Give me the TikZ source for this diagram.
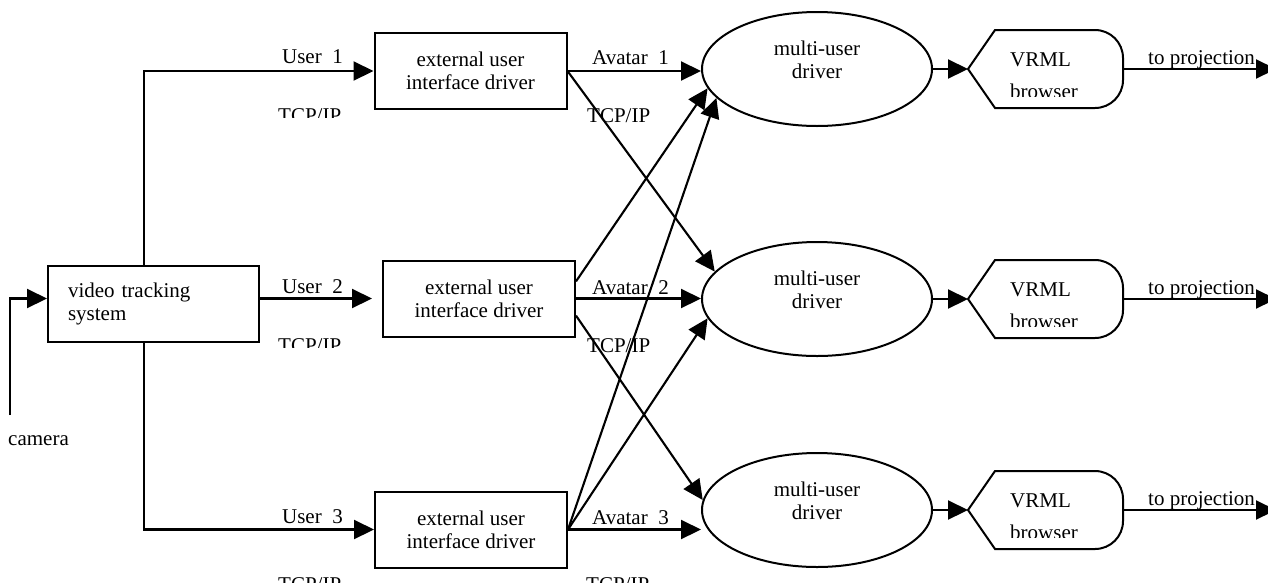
\documentclass[tikz,border=0pt]{standalone}
\usepackage{fontspec}
\setmainfont{Liberation Serif}
\usetikzlibrary{arrows.meta,calc,positioning,shapes.geometric}
\tikzset{
 chart/.style={font=\fontsize{21}{23}\selectfont,line join=miter},
 unitbox/.style={rectangle,draw,line width=2pt,inner sep=0pt,minimum width=192pt,minimum height=76pt,align=center},
 trackbox/.style={unitbox,minimum width=211pt,text width=171pt,inner xsep=20pt,align=left},
 mudriver/.style={ellipse,draw,line width=2pt,inner sep=0pt,minimum width=230pt,minimum height=114pt},
 mutext/.style={align=center,inner sep=0pt,yshift=9pt},
 shapeline/.style={draw,line width=2pt},
 wire/.style={line width=2.1pt},
 flow/.style={wire,-{Triangle[length=20pt,width=19pt]}},
 tag/.style={inner sep=0pt,anchor=base west},
 tagr/.style={inner sep=0pt,anchor=base east}
}
\newcommand{\vrmlBrowser}[2]{%
 \begin{scope}[shift={(0,#2)}]
 \draw[shapeline] (968,0) -- (995,-39) -- (1095,-39) to[out=0,in=90] (1123,-11)
   -- (1123,11) to[out=-90,in=0] (1095,39) -- (995,39) -- cycle;
 \coordinate (#1in) at (968,0);
 \coordinate (#1out) at (1123,0);
 \coordinate (#1end) at (1276,0);
 \node[tag] (#1name) at (1010,-3) {VRML};
 \begin{scope}
  \clip (1000,10) rectangle (1100,27);
  \node[tag] (#1sub) at (1010,29) {browser};
 \end{scope}
 \node[tag] (#1proj) at (1148,-5) {to projection};
 \end{scope}}

\begin{document}
\begin{tikzpicture}[chart,x=1pt,y=-1pt]
 \useasboundingbox (0,0) rectangle (1268,582);
 \node[trackbox] (vts) at (153.5,304) {video tracking\\system};
 \node[unitbox] (ext1) at (470.5,71) {external user\\interface driver};
 \node[unitbox] (ext2) at (479,298.5) {external user\\interface driver};
 \node[unitbox] (ext3) at (471,529.5) {external user\\interface driver};
 \node[mudriver,label={[mutext,name=mu1t]center:{multi-user\\driver}}] (mu1) at (817,69) {};
 \node[mudriver,label={[mutext,name=mu2t]center:{multi-user\\driver}}] (mu2) at (817,299) {};
 \node[mudriver,label={[mutext,name=mu3t]center:{multi-user\\driver}}] (mu3) at (817,510) {};
 \vrmlBrowser{vr1}{69}
 \vrmlBrowser{vr2}{299}
 \vrmlBrowser{vr3}{510}
 \coordinate (split) at (144,0);
 \coordinate (cam) at (10,415);
 \node[tag] (camlbl) at (8,445) {camera};
 % tracker to the user drivers
 \draw[flow] (cam) |- (vts.west |- ext2.west);
 \draw[flow] (vts.north -| split) |- (ext1.west);
 \draw[flow,shorten >=10pt] (vts.east |- ext2.west) -- (ext2.west);
 \draw[flow] (vts.south -| split) |- (ext3.west);
 \node[tagr] (u1) at (343,63) {User\ \ 1};
 \node[tagr] (u2) at (343,293) {User\ \ 2};
 \node[tagr] (u3) at (343,523) {User\ \ 3};
 \begin{scope}
  \clip (250,100) rectangle (360,117);
  \node[tag] (tcpu1) at (278,122) {TCP/IP};
 \end{scope}
 \begin{scope}
  \clip (250,330) rectangle (360,347);
  \node[tag] (tcpu2) at (278,352) {TCP/IP};
 \end{scope}
 \node[tag] (tcpu3) at (278,591) {TCP/IP};
 % avatars to the multi-user drivers
 \draw[flow] (ext1.east) -- (ext1.east -| mu1.west);
 \draw[flow] (ext2.east) -- (ext2.east -| mu2.west);
 \draw[flow] (ext3.east) -- (ext3.east -| mu3.west);
 \draw[flow] (ext1.east) -- (mu2.165);
 \draw[flow] (ext2.10) -- (mu1.190);
 \draw[flow] (ext2.-10) -- (mu3.175);
 \draw[flow] (ext3.east) -- (mu1.196);
 \draw[flow] (ext3.east) -- (mu2.190);
 \node[tag] (av1) at (592,64) {Avatar\ \ 1};
 \node[tag] (av2) at (592,294) {Avatar\ \ 2};
 \node[tag] (av3) at (592,524) {Avatar\ \ 3};
 \node[tag] (tcpa1) at (587,122) {TCP/IP};
 \node[tag] (tcpa2) at (587,352) {TCP/IP};
 \node[tag] (tcpa3) at (586,591) {TCP/IP};
 % browsers
 \draw[flow] (mu1.east) -- (vr1in);
 \draw[flow] (mu2.east) -- (vr2in);
 \draw[flow] (mu3.east) -- (vr3in);
 \draw[flow] (vr1out) -- (vr1end);
 \draw[flow] (vr2out) -- (vr2end);
 \draw[flow] (vr3out) -- (vr3end);
\end{tikzpicture}
\end{document}
